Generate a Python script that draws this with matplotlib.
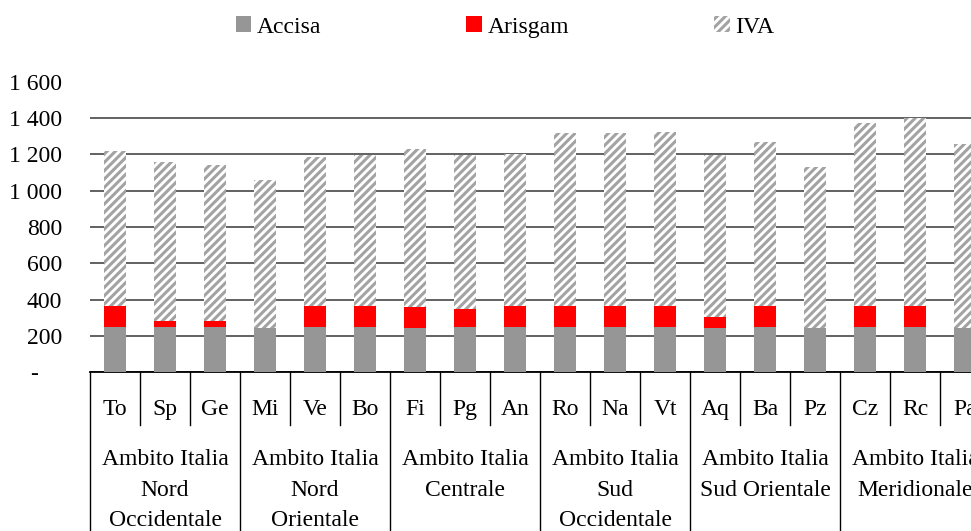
import matplotlib
matplotlib.use("Agg")
import matplotlib.pyplot as plt
from matplotlib.patches import Patch
from matplotlib.transforms import blended_transform_factory

plt.rcParams['font.family'] = ['Liberation Serif', 'DejaVu Serif']
plt.rcParams['hatch.linewidth'] = 2.2

# -------------------------------
# Data
# -------------------------------
cities = ['To', 'Sp', 'Ge', 'Mi', 'Ve', 'Bo', 'Fi', 'Pg', 'An',
          'Ro', 'Na', 'Vt', 'Aq', 'Ba', 'Pz', 'Cz', 'Rc', 'Pa']
groups = ['Ambito Italia\nNord\nOccidentale', 'Ambito Italia\nNord\nOrientale',
          'Ambito Italia\nCentrale', 'Ambito Italia\nSud\nOccidentale',
          'Ambito Italia\nSud Orientale', 'Ambito Italia\nMeridionale']
accisa = [250, 250, 250, 245, 250, 250, 245, 250, 250,
          250, 250, 250, 245, 250, 245, 250, 250, 245]
arisgam = [116, 33, 33, 0, 116, 116, 116, 100, 116,
           116, 116, 116, 61, 116, 0, 116, 116, 0]
iva = [856, 873, 857, 816, 820, 831, 867, 847, 834,
       951, 951, 956, 889, 901, 884, 1006, 1034, 1011]
y_ticks = [0, 200, 400, 600, 800, 1000, 1200, 1400, 1600]

FS = 17
W, H = 971, 531
HATCH_COLOR = '#a3a3a3'

fig = plt.figure(figsize=(W / 100, H / 100), dpi=100)
# plot area runs past the right edge, like the cropped original
ax = fig.add_axes([90 / W, (H - 372) / H, 900 / W, 290 / H])

x = range(len(cities))
base2 = [a + b for a, b in zip(accisa, arisgam)]
ax.bar(x, accisa, width=0.43, color='#969696', zorder=3)
ax.bar(x, arisgam, width=0.43, bottom=accisa, color='#ff0000', zorder=3)
ax.bar(x, iva, width=0.43, bottom=base2, color='white', edgecolor=HATCH_COLOR,
       hatch='////', linewidth=0, zorder=3)

ax.set_xlim(-0.5, len(cities) - 0.5)
ax.set_ylim(0, 1600)
ax.set_yticks(y_ticks)
ax.set_yticklabels(['-    '] + ['{:,}'.format(v).replace(',', ' ') for v in y_ticks[1:]],
                   fontsize=FS)
ax.tick_params(axis='y', length=0, pad=20)
ax.set_xticks([])
ax.grid(axis='y', color='#555555', linewidth=1.3, zorder=0)
ax.get_ygridlines()[-1].set_visible(False)
for s in ['top', 'right', 'left']:
    ax.spines[s].set_visible(False)
ax.spines['bottom'].set_linewidth(1.3)

# category table under the axis
trans = blended_transform_factory(ax.transData, ax.transAxes)
px = 1 / 290
for i in range(len(cities) + 1):
    low = -53 * px if i % 3 else -170 * px
    ax.plot([i - 0.5, i - 0.5], [0, low], color='black', lw=1.0,
            transform=trans, clip_on=False)
for i, c in enumerate(cities):
    ax.text(i, -43 * px, c, ha='center', va='baseline', fontsize=FS,
            transform=trans)
for g, name in enumerate(groups):
    ax.text(g * 3 + 1, -77 * px, name, ha='center', va='top', fontsize=FS,
            linespacing=1.6, transform=trans)

# legend
handles = [Patch(facecolor='#969696', label='Accisa'),
           Patch(facecolor='#ff0000', label='Arisgam'),
           Patch(facecolor='white', edgecolor=HATCH_COLOR, hatch='////',
                 linewidth=0, label='IVA')]
fig.legend(handles=handles, loc='center', bbox_to_anchor=(505 / W, 1 - 27 / H),
           ncol=3, frameon=False, fontsize=FS, handlelength=0.66,
           handleheight=0.66, handletextpad=0.23, columnspacing=6.15)

fig.savefig('out.png', dpi=100)
